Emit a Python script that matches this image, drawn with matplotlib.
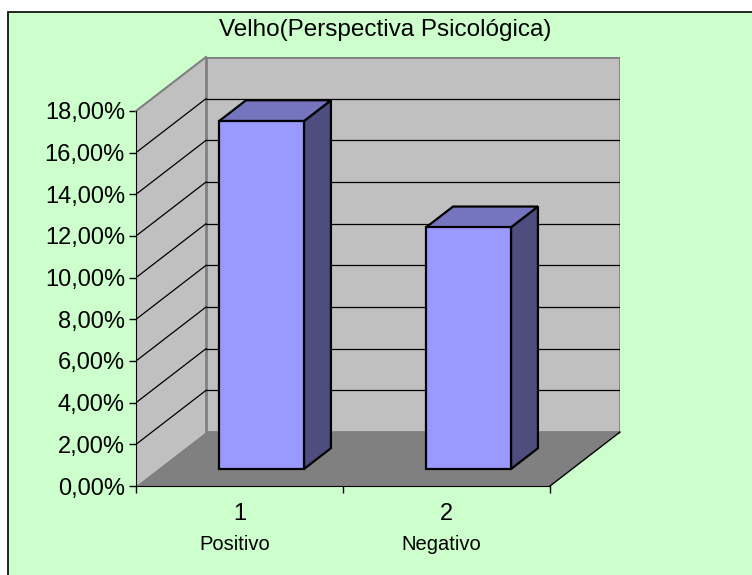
import matplotlib
matplotlib.use("Agg")
import matplotlib.pyplot as plt
from matplotlib.patches import Polygon, Rectangle

plt.rcParams['font.family'] = ['Liberation Sans', 'DejaVu Sans']

title = "Velho(Perspectiva Psicológica)"
categories = ["Positivo", "Negativo"]
cat_numbers = ["1", "2"]
values = [0.167, 0.116]
yticks = [0.00, 0.02, 0.04, 0.06, 0.08, 0.10, 0.12, 0.14, 0.16, 0.18]
ymax = 0.18

# oblique 3D projection parameters (in data units)
DX = 70 / 207.0          # depth offset in category units
DY = 54 / 2085.0         # depth offset in value units
bar_w = 0.41
d0, d1 = 0.315, 0.70     # bar depth span (fraction of full depth)

W, H = 752, 575
fig = plt.figure(figsize=(W / 100, H / 100), dpi=100)
fig.patch.set_facecolor("white")

# chart area background with border
bg = Rectangle((8 / W, -0.1), 1.2, 1 - 12 / H + 0.1, transform=fig.transFigure,
               facecolor="#CCFFCC", edgecolor="black", linewidth=1.2, zorder=-10)
fig.patches.append(bg)

ax = fig.add_axes([136 / W, (H - 486) / H, 484 / W, 429 / H])
ax.set_zorder(1)
ax.set_facecolor("none")
n = len(values)
ax.set_xlim(0, n + DX)
ax.set_ylim(0, ymax + DY)


def P(x, y, d):
    return (x + d * DX, y + d * DY)


wall_col = "#C0C0C0"
floor_col = "#808080"
edge_grey = "#808080"

# floor
ax.add_patch(Polygon([P(0, 0, 0), P(n, 0, 0), P(n, 0, 1), P(0, 0, 1)],
                     closed=True, facecolor=floor_col, edgecolor="none", zorder=1))
# left wall
ax.add_patch(Polygon([P(0, 0, 0), P(0, ymax, 0), P(0, ymax, 1), P(0, 0, 1)],
                     closed=True, facecolor=wall_col, edgecolor="none", zorder=1))
# back wall
ax.add_patch(Polygon([P(0, 0, 1), P(n, 0, 1), P(n, ymax, 1), P(0, ymax, 1)],
                     closed=True, facecolor=wall_col, edgecolor=edge_grey,
                     linewidth=2, zorder=1))
# left wall top edge
ax.plot(*zip(P(0, ymax, 0), P(0, ymax, 1)), color=edge_grey, lw=1.5, zorder=2,
        clip_on=False)
# floor right edge
ax.plot(*zip(P(n, 0, 0), P(n, 0, 1)), color="black", lw=1, zorder=2, clip_on=False)

# gridlines
for v in yticks[1:-1]:
    ax.plot(*zip(P(0, v, 0), P(0, v, 1)), color="black", lw=0.9, zorder=2)
    ax.plot(*zip(P(0, v, 1), P(n, v, 1)), color="black", lw=0.9, zorder=2)

# bars
front_col = "#9999FF"
top_col = "#7575BF"
side_col = "#4D4D80"
for i, v in enumerate(values):
    xl = i + 0.5 - bar_w / 2
    xr = i + 0.5 + bar_w / 2
    front = [P(xl, 0, d0), P(xr, 0, d0), P(xr, v, d0), P(xl, v, d0)]
    top = [P(xl, v, d0), P(xr, v, d0), P(xr, v, d1), P(xl, v, d1)]
    side = [P(xr, 0, d0), P(xr, 0, d1), P(xr, v, d1), P(xr, v, d0)]
    for poly, col in ((side, side_col), (top, top_col), (front, front_col)):
        ax.add_patch(Polygon(poly, closed=True, facecolor=col, edgecolor="black",
                             linewidth=1.6, joinstyle="miter", zorder=3))

# axes / spines
for s in ("top", "right"):
    ax.spines[s].set_visible(False)
ax.spines["left"].set_bounds(0, ymax)
ax.spines["bottom"].set_bounds(0, n)
ax.spines["left"].set_zorder(4)
ax.spines["bottom"].set_zorder(4)
ax.set_yticks(yticks)
ax.set_yticklabels([("%.2f%%" % (t * 100)).replace(".", ",") for t in yticks],
                   fontsize=17)
ax.tick_params(axis="y", direction="out", length=5, width=1, pad=3)
ax.set_xticks(range(n + 1))
ax.set_xticklabels([])
ax.tick_params(axis="x", direction="out", length=5, width=1)

for i, (num, cat) in enumerate(zip(cat_numbers, categories)):
    ax.annotate(num, xy=(i + 0.5, 0), xycoords="data", xytext=(0, -28),
                textcoords="offset pixels", ha="center", va="center", fontsize=17)
    ax.annotate(cat, xy=(i + 0.5, 0), xycoords="data", xytext=(-5, -59),
                textcoords="offset pixels", ha="center", va="center", fontsize=14.5)

fig.text(385.5 / W, 1 - 30 / H, title, ha="center", va="center", fontsize=17.5)

fig.savefig("out.png", dpi=100, facecolor=fig.get_facecolor())
